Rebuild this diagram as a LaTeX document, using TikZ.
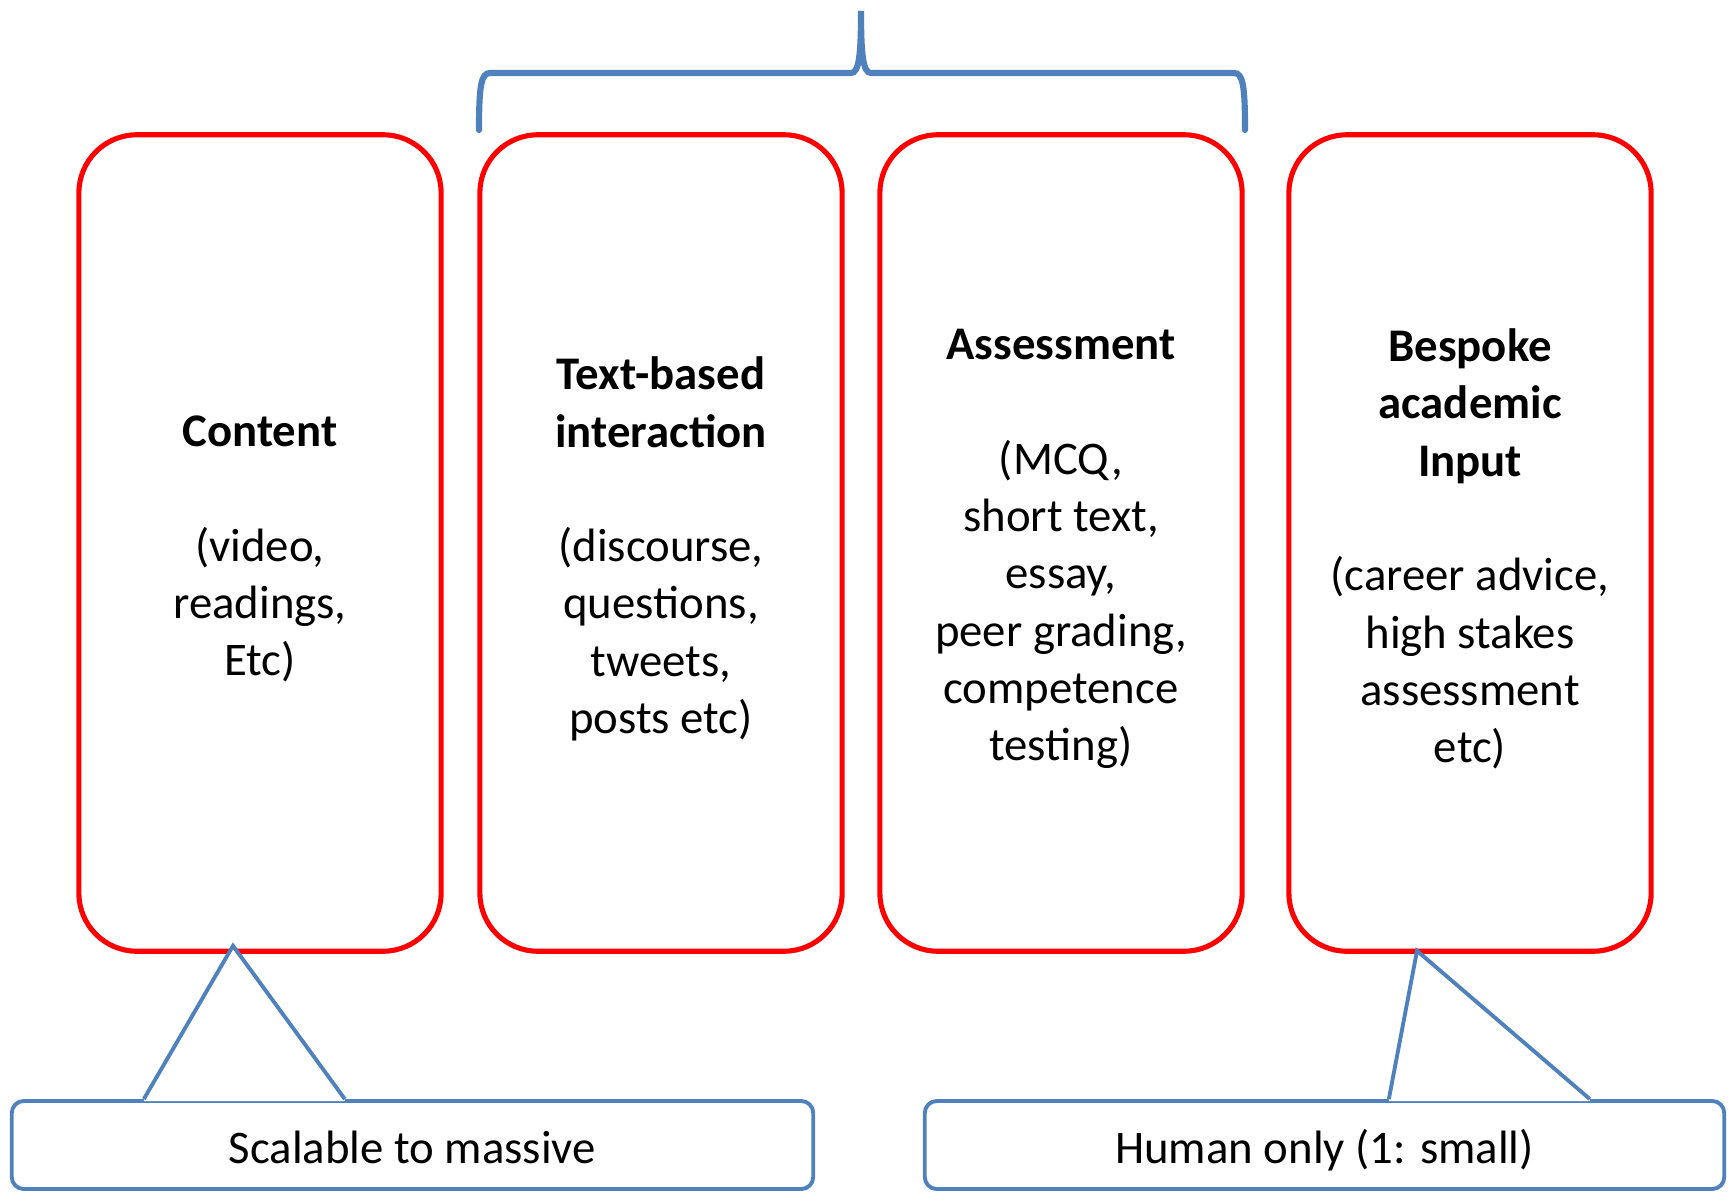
\documentclass[tikz,border=0pt]{standalone}
\usepackage{fontspec}
\setmainfont{Carlito}
\usetikzlibrary{calc}
\definecolor{boxred}      {RGB}{255,  0,  0}
\definecolor{calloutblue} {RGB}{ 79,129,189}
\tikzset{
  stage box/.style   = {draw=boxred, line width=1.45pt, fill=white,
                        rounded corners=0.58cm, minimum width=3.62cm,
                        minimum height=8.16cm, inner sep=0pt},
  stage text/.style  = {align=center, inner sep=0pt},
  callout box/.style = {draw=calloutblue, line width=1.1pt, fill=white,
                        rounded corners=0.12cm, minimum height=0.88cm,
                        text height=0.44cm, text depth=0.08cm, inner sep=0pt},
  callout line/.style= {calloutblue, line width=1.1pt, line join=miter},
  brace line/.style  = {calloutblue, line width=1.75pt, line cap=round},
}

\begin{document}
\begin{tikzpicture}[x=0.01cm, y=-0.01cm, font=\fontsize{13.3}{16.3}\selectfont]

  \useasboundingbox (0,0) rectangle (1728,1191);

  % ── the four kinds of provision ─────────────────────────────────────────
  \node[stage box] (content) at (260,543) {};
  \node[stage box] (text)    at (661,543) {};
  \node[stage box] (assess)  at (1061,543) {};
  \node[stage box] (bespoke) at (1470,543) {};

  \node[stage text] (content txt) at ($(content)+(0,6)$)
    {\textbf{Content}\\[\baselineskip](video,\\readings,\\Etc)};
  \node[stage text] (text txt) at ($(text)+(0,6)$)
    {\textbf{Text-based}\\\textbf{interaction}\\[\baselineskip](discourse,\\questions,\\tweets,\\posts etc)};
  \node[stage text] (assess txt) at ($(assess)+(0,6)$)
    {\textbf{Assessment}\\[\baselineskip](MCQ,\\short text,\\essay,\\peer grading,\\competence\\testing)};
  \node[stage text] (bespoke txt) at ($(bespoke)+(0,6)$)
    {\textbf{Bespoke}\\\textbf{academic}\\\textbf{Input}\\[\baselineskip](career advice,\\high stakes\\assessment\\etc)};

  % brace over the two middle boxes
  \draw[brace line]
    (479,130) .. controls (479,86) and (481,73) .. (490,73)
    -- (851,73) .. controls (859,73) and (861,55) .. (861,11)
    .. controls (861,55) and (863,73) .. (871,73)
    -- (1234,73) .. controls (1243,73) and (1245,86) .. (1245,130);

  % ── callouts ───────────────────────────────────────────────────────────
  \node[callout box, minimum width=8.01cm] (scal) at (412.5,1145)
    {Scalable to massive};
  \node[callout box, minimum width=7.99cm] (human) at (1324.5,1145)
    {Human only (1: small)};

  \coordinate (scal l)   at ($(scal.north west)+(134,0)$);
  \coordinate (scal r)   at ($(scal.north west)+(335,0)$);
  \coordinate (scal tip) at ($(content.south)+(-27,-8)$);
  \coordinate (human l)   at ($(human.north west)+(466,0)$);
  \coordinate (human r)   at ($(human.north west)+(667,0)$);
  \coordinate (human tip) at ($(bespoke.south)+(-53,-3)$);

  % pointers (white wedge hides the top edge)
  \fill[white] (scal l) -- (scal tip) -- (scal r) -- ($(scal r)+(0,2)$) -- ($(scal l)+(0,2)$) -- cycle;
  \draw[callout line] (scal l) -- (scal tip) -- (scal r);
  \fill[white] (human l) -- (human tip) -- (human r) -- ($(human r)+(0,2)$) -- ($(human l)+(0,2)$) -- cycle;
  \draw[callout line] (human l) -- (human tip) -- (human r);

\end{tikzpicture}
\end{document}
